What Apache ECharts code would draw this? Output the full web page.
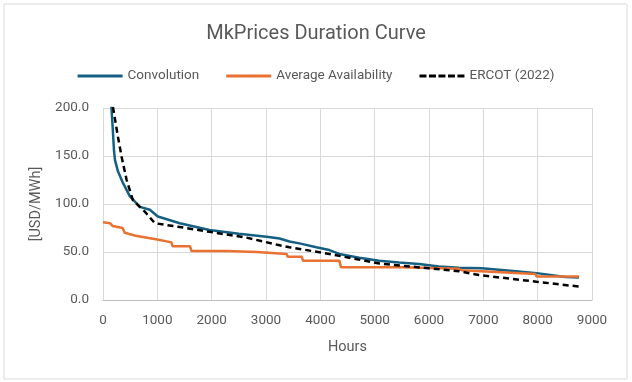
<!DOCTYPE html>
<html>
<head>
<meta charset="utf-8">
<script src="https://cdn.jsdelivr.net/npm/echarts@6/dist/echarts.min.js"></script>
<style>
  html, body { margin: 0; padding: 0; background: #fff; }
  #chart { width: 632px; height: 382px; }
</style>
</head>
<body>
<div id="chart"></div>
<script>
// values: [hours, USD/MWh]
const convolution = [
  [150, 205], [178, 180], [202, 156], [220, 146], [275, 134], [367, 122],
  [495, 108], [679, 97], [862, 94], [1009, 87], [1413, 80], [1960, 73],
  [2500, 69], [3010, 66], [3250, 64], [3430, 61], [3615, 59], [3927, 55],
  [4165, 52], [4350, 48], [4716, 44], [5083, 41], [5450, 39], [5817, 37.5],
  [6183, 35], [6550, 33.5], [6972, 33], [7596, 30], [7982, 28], [8514, 24],
  [8760, 23.5]
];
const avgAvailability = [
  [0, 81], [130, 80], [180, 77], [360, 75], [400, 70], [600, 67], [1000, 63],
  [1260, 60], [1280, 56], [1600, 56], [1630, 51], [2280, 51], [2290, 50],
  [2830, 50], [2840, 48], [3380, 48], [3400, 45], [3660, 45], [3680, 41],
  [4350, 41], [4380, 34], [5500, 34], [5510, 33], [6550, 32.5], [6600, 31],
  [7960, 27], [7980, 24.5], [8760, 24.5]
];
const ercot2022 = [
  [183, 201], [275, 170], [343, 149], [435, 125], [550, 104], [770, 92],
  [954, 80], [1413, 76], [1960, 71], [2640, 65], [3250, 57], [3430, 55],
  [4165, 48], [5083, 38], [6000, 33], [6550, 30], [6917, 26], [7982, 19],
  [8760, 14]
];
const seriesNames = ['Convolution', 'Average Availability', 'ERCOT (2022)'];

const font = 'Roboto, "Noto Sans", sans-serif';
const grey = '#595959';

// legend icons: plain line, and a dashed line
const solidIcon = 'path://M0,0H45V3H0Z';
const dashIcon = 'path://M0,0H7V3H0Z M9.5,0H16.5V3H9.5Z M19,0H26V3H19Z M28.5,0H35.5V3H28.5Z M38,0H45V3H38Z';

const chart = echarts.init(document.getElementById('chart'));
chart.setOption({
  animation: false,
  textStyle: { fontFamily: font },
  title: {
    text: 'MkPrices Duration Curve',
    left: 'center',
    top: 19,
    textStyle: { fontFamily: font, fontSize: 20, fontWeight: 'normal', color: grey }
  },
  legend: {
    data: [
      { name: seriesNames[0], icon: solidIcon },
      { name: seriesNames[1], icon: solidIcon },
      { name: seriesNames[2], icon: dashIcon }
    ],
    top: 64,
    left: 'center',
    itemWidth: 45,
    itemHeight: 3,
    itemGap: 27,
    textStyle: { fontFamily: font, fontSize: 13.5, color: grey }
  },
  graphic: [{
    type: 'rect',
    shape: { x: 4, y: 4, width: 623, height: 375 },
    style: { fill: 'none', stroke: '#d9d9d9', lineWidth: 1 },
    silent: true
  }],
  grid: { left: 103, right: 40, top: 108, bottom: 82 },
  xAxis: {
    type: 'value',
    min: 0, max: 9000, interval: 1000,
    name: 'Hours',
    nameLocation: 'middle',
    nameGap: 40,
    nameTextStyle: { fontSize: 14.5, color: grey },
    axisLine: { show: true, lineStyle: { color: '#bfbfbf' } },
    axisTick: { show: false },
    axisLabel: { fontSize: 13.5, color: grey, margin: 14, formatter: v => String(v) },
    splitLine: { show: true, lineStyle: { color: '#d9d9d9' } }
  },
  yAxis: {
    type: 'value',
    min: 0, max: 200, interval: 50,
    name: '[USD/MWh]',
    nameLocation: 'middle',
    nameGap: 57,
    nameTextStyle: { fontSize: 14.5, color: grey },
    axisLine: { show: true, lineStyle: { color: '#d9d9d9' } },
    axisTick: { show: false },
    axisLabel: { fontSize: 13.5, color: grey, margin: 14, formatter: v => v.toFixed(1) },
    splitLine: { show: true, lineStyle: { color: '#d9d9d9' } }
  },
  series: [
    {
      name: seriesNames[0], type: 'line', data: convolution, symbol: 'none',
      lineStyle: { color: '#156082', width: 2.5 }, itemStyle: { color: '#156082' }
    },
    {
      name: seriesNames[1], type: 'line', data: avgAvailability, symbol: 'none',
      lineStyle: { color: '#E97132', width: 2.5 }, itemStyle: { color: '#E97132' }
    },
    {
      name: seriesNames[2], type: 'line', data: ercot2022, symbol: 'none',
      lineStyle: { color: '#000000', width: 2.5, type: [6, 4] }, itemStyle: { color: '#000000' }
    }
  ]
});
</script>
</body>
</html>
